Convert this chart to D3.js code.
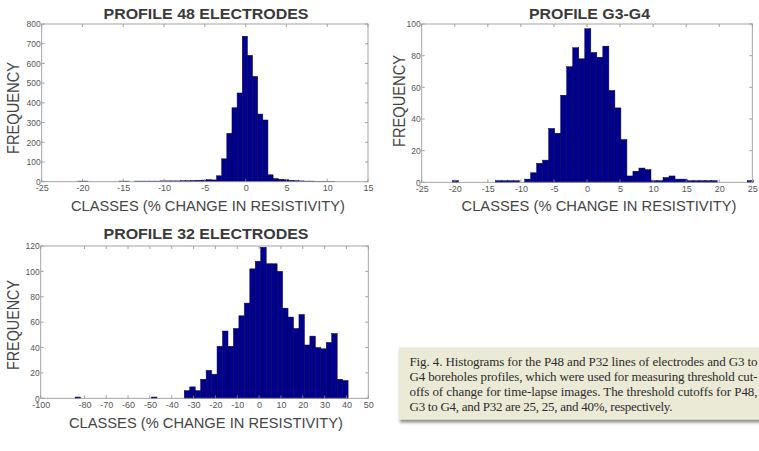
<!DOCTYPE html>
<html>
<head>
<meta charset="utf-8">
<script src="https://cdn.jsdelivr.net/npm/d3@7/dist/d3.min.js"></script>
<style>
  html, body { margin: 0; padding: 0; background: #ffffff; }
  svg { display: block; }
</style>
</head>
<body>
<svg id="chart" width="759" height="451"></svg>
<script>
// ---------- DATA ----------
// Profile 48 electrodes: bin centres (% change) and frequencies
const p48BinWidth = 0.63;
const p48Centers = [-20.26, -19.63, -15.22, -14.59, -13.33, -12.7, -12.07, -11.44, -10.81, -10.18,
  -9.55, -8.92, -8.29, -7.66, -7.03, -6.4, -5.77, -5.14, -4.51, -3.88, -3.25, -2.62, -1.99, -1.36,
  -0.73, -0.1, 0.53, 1.16, 1.79, 2.42, 3.05, 3.68, 4.31, 4.94, 5.57, 6.2, 6.83, 7.46, 8.09, 8.72,
  9.35, 9.98, 10.61];
const p48Counts = [3, 3, 3, 3, 3, 3, 3, 3, 3, 4,
  4, 4, 4, 5, 5, 6, 7, 8, 10, 9, 30, 116, 245, 375,
  450, 738, 641, 534, 343, 313, 35, 16, 12, 10, 7, 5, 4, 3, 3, 2,
  2, 2, 2];
const p48XTicks = [-25, -20, -15, -10, -5, 0, 5, 10, 15];
const p48YTicks = [0, 100, 200, 300, 400, 500, 600, 700, 800];

// Profile G3-G4
const g34BinWidth = 0.91;
const g34Centers = [-19.9, -13.41, -12.5, -11.59, -10.68, -8.98, -8.07, -7.16, -6.25, -5.34,
  -4.43, -3.52, -2.61, -1.7, -0.79, 0.12, 1.03, 1.94, 2.85, 3.76, 4.67, 5.58, 6.49, 7.4, 8.31,
  9.22, 10.13, 11.04, 11.95, 12.86, 13.77, 14.68, 15.59, 16.5, 17.41, 18.32, 19.23, 24.69];
const g34Counts = [1, 1, 1, 1, 1, 2, 6, 12, 14, 34,
  31, 55, 73, 85, 78, 97, 82, 79, 86, 58, 47, 27, 4, 7, 9,
  8, 1, 1, 3, 4, 2, 2, 1, 1, 1, 1, 1, 1];
const g34XTicks = [-25, -20, -15, -10, -5, 0, 5, 10, 15, 20, 25];
const g34YTicks = [0, 20, 40, 60, 80, 100];

// Profile 32 electrodes
const p32BinWidth = 2.5;
const p32Centers = [-83, -48, -33, -30.5, -28, -25.5, -23, -20.5, -18, -15.5, -13, -10.5, -8,
  -5.5, -3, -0.5, 2, 4.5, 7, 9.5, 12, 14.5, 17, 19.5, 22, 24.5, 27, 29.5, 32, 34.5, 37, 39.5];
const p32Counts = [1, 1, 6, 9, 6, 15, 22, 19, 41, 53, 41, 55, 65,
  75, 102, 108, 119, 106, 106, 100, 71, 64, 55, 66, 42, 49, 40, 39, 44, 51, 15, 14];
const p32XTicks = [-100, -80, -70, -60, -50, -40, -30, -20, -10, 0, 10, 20, 30, 40, 50];
const p32YTicks = [0, 20, 40, 60, 80, 100, 120];

const titles = ["PROFILE 48 ELECTRODES", "PROFILE G3-G4", "PROFILE 32 ELECTRODES"];
const xLabel = "CLASSES (% CHANGE IN RESISTIVITY)";
const yLabel = "FREQUENCY";
const captionLines = [
  "Fig. 4. Histograms for the P48 and P32 lines of electrodes and G3 to",
  "G4 boreholes profiles, which were used for measuring threshold cut-",
  "offs of change for time-lapse images. The threshold cutoffs for P48,",
  "G3 to G4, and P32 are 25, 25, and 40%, respectively."
];

// ---------- DRAWING ----------
const svg = d3.select("#chart");
const defs = svg.append("defs");
const f = defs.append("filter").attr("id", "shadow")
  .attr("x", "-5%").attr("y", "-10%").attr("width", "115%").attr("height", "130%");
f.append("feDropShadow").attr("dx", 1).attr("dy", 3).attr("stdDeviation", 1.8)
  .attr("flood-color", "#000").attr("flood-opacity", 0.45);

const fmt = v => String(v); // plain hyphen-minus like the reference

function drawHist(o) {
  const g = svg.append("g");
  const x = d3.scaleLinear().domain(o.xDomain).range([o.left, o.right]);
  const y = d3.scaleLinear().domain(o.yDomain).range([o.bottom, o.top]);

  // bars
  g.selectAll("rect.bar").data(o.centers.map((c, i) => ({ c, n: o.counts[i] })))
    .enter().append("rect")
    .attr("class", "bar")
    .attr("x", d => x(d.c - o.bw / 2))
    .attr("width", d => x(d.c + o.bw / 2) - x(d.c - o.bw / 2))
    .attr("y", d => y(d.n))
    .attr("height", d => y(0) - y(d.n))
    .attr("fill", "#00008c")
    .attr("stroke", "#00004a")
    .attr("stroke-width", 0.5);

  // axes (matlab-style: ticks inward on all four sides)
  const tickCol = "#8a8a8a";
  const bottomAxis = d3.axisBottom(x).tickValues(o.xTicks).tickFormat(fmt).tickSize(0).tickPadding(0);
  const gb = g.append("g").attr("transform", `translate(0,${o.bottom})`).call(bottomAxis);
  gb.select(".domain").remove();
  gb.selectAll("text").attr("dy", "0").attr("y", 9.5)
    .attr("font-family", "Liberation Sans, Arial, sans-serif").attr("font-size", 9)
    .attr("fill", "#555");

  const leftAxis = d3.axisLeft(y).tickValues(o.yTicks).tickFormat(fmt).tickSize(0).tickPadding(0);
  const gl = g.append("g").attr("transform", `translate(${o.left},0)`).call(leftAxis);
  gl.select(".domain").remove();
  gl.selectAll("text").attr("x", -1).attr("dy", "0.33em")
    .attr("font-family", "Liberation Sans, Arial, sans-serif").attr("font-size", 8.5)
    .attr("fill", "#555");

  // tick marks
  const tl = 3;
  o.xTicks.forEach(v => {
    g.append("line").attr("x1", x(v)).attr("x2", x(v)).attr("y1", o.bottom).attr("y2", o.bottom - tl)
      .attr("stroke", tickCol).attr("stroke-width", 0.8);
    g.append("line").attr("x1", x(v)).attr("x2", x(v)).attr("y1", o.top).attr("y2", o.top + tl)
      .attr("stroke", tickCol).attr("stroke-width", 0.8);
  });
  o.yTicks.forEach(v => {
    g.append("line").attr("x1", o.left).attr("x2", o.left + tl).attr("y1", y(v)).attr("y2", y(v))
      .attr("stroke", tickCol).attr("stroke-width", 0.8);
    g.append("line").attr("x1", o.right).attr("x2", o.right - tl).attr("y1", y(v)).attr("y2", y(v))
      .attr("stroke", tickCol).attr("stroke-width", 0.8);
  });

  // box
  g.append("rect").attr("x", o.left).attr("y", o.top)
    .attr("width", o.right - o.left).attr("height", o.bottom - o.top)
    .attr("fill", "none").attr("stroke", "#9a9a9a").attr("stroke-width", 0.9);

  // title
  g.append("text").attr("x", o.titleX).attr("y", o.titleY).attr("text-anchor", "middle")
    .attr("font-family", "Liberation Sans, Arial, sans-serif").attr("font-weight", "bold")
    .attr("font-size", 15.5).attr("fill", "#3a3a3a")
    .attr("textLength", o.titleW).attr("lengthAdjust", "spacingAndGlyphs")
    .text(o.title);

  // x label
  g.append("text").attr("x", o.xlX).attr("y", o.xlY).attr("text-anchor", "middle")
    .attr("font-family", "Liberation Sans, Arial, sans-serif")
    .attr("font-size", 15.5).attr("fill", "#454545")
    .attr("textLength", o.xlW).attr("lengthAdjust", "spacingAndGlyphs")
    .text(xLabel);

  // y label
  g.append("text").attr("transform", `translate(${o.ylX},${o.ylY}) rotate(-90)`)
    .attr("text-anchor", "middle")
    .attr("font-family", "Liberation Sans, Arial, sans-serif")
    .attr("font-size", 17).attr("fill", "#454545")
    .attr("textLength", o.ylW).attr("lengthAdjust", "spacingAndGlyphs")
    .text(yLabel);
}

drawHist({
  centers: p48Centers, counts: p48Counts, bw: p48BinWidth,
  xDomain: [-25, 15], yDomain: [0, 800], xTicks: p48XTicks, yTicks: p48YTicks,
  left: 41.7, right: 368, top: 24, bottom: 181.7,
  title: titles[0], titleX: 206, titleY: 18.5, titleW: 205,
  xlX: 208, xlY: 210.5, xlW: 274,
  ylX: 19, ylY: 108, ylW: 92
});

drawHist({
  centers: g34Centers, counts: g34Counts, bw: g34BinWidth,
  xDomain: [-25, 25], yDomain: [0, 100], xTicks: g34XTicks, yTicks: g34YTicks,
  left: 421.7, right: 752.3, top: 24, bottom: 182.3,
  title: titles[1], titleX: 589.5, titleY: 18.5, titleW: 121,
  xlX: 599, xlY: 210.8, xlW: 275,
  ylX: 405, ylY: 101, ylW: 92
});

drawHist({
  centers: p32Centers, counts: p32Counts, bw: p32BinWidth,
  xDomain: [-100, 50], yDomain: [0, 120], xTicks: p32XTicks, yTicks: p32YTicks,
  left: 40.7, right: 368.3, top: 246, bottom: 398.3,
  title: titles[2], titleX: 206, titleY: 238.5, titleW: 205,
  xlX: 206, xlY: 428, xlW: 274,
  ylX: 19, ylY: 325, ylW: 90
});

// caption box
const cap = svg.append("g");
cap.append("rect").attr("x", 399).attr("y", 347.5).attr("width", 380).attr("height", 72)
  .attr("fill", "#ebead6").attr("filter", "url(#shadow)");
const capW = [348, 348, 348, 263];
captionLines.forEach((t, i) => {
  cap.append("text").attr("x", 409.5).attr("y", 365.5 + i * 15)
    .attr("font-family", "Liberation Serif, 'DejaVu Serif', serif")
    .attr("font-size", 13).attr("fill", "#2b2b2b")
    .attr("textLength", capW[i]).attr("lengthAdjust", "spacing")
    .text(t);
});
</script>
</body>
</html>
